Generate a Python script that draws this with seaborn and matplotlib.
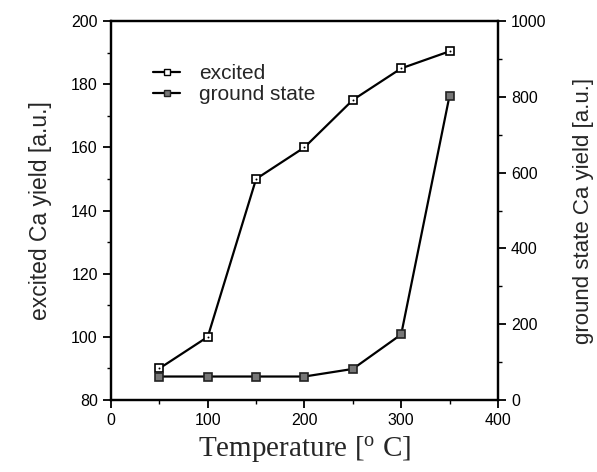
import matplotlib
matplotlib.use("Agg")
import matplotlib.pyplot as plt
import seaborn as sns
import pandas as pd
from matplotlib.lines import Line2D
from matplotlib.ticker import MultipleLocator

sns.set_theme(style="white")
plt.rcParams['font.family'] = ['Liberation Sans', 'DejaVu Sans']

temperature = [50, 100, 150, 200, 250, 300, 350]
excited = [90, 100, 150, 160, 175, 185, 190.4]
ground = [62, 62, 62, 62, 82, 173, 803]

df = pd.DataFrame({'T': temperature, 'excited': excited, 'ground': ground})

fig = plt.figure(figsize=(5.97, 4.72), dpi=100)
ax = fig.add_axes([0.186, 0.1525, 0.648, 0.803])
ax2 = ax.twinx()

sns.lineplot(data=df, x='T', y='excited', ax=ax, color='black', lw=1.6,
             marker='s', markersize=6, markerfacecolor='white',
             markeredgecolor='black', markeredgewidth=1.2)
sns.scatterplot(data=df, x='T', y='excited', ax=ax, color='black', s=2,
                linewidth=0, zorder=5)
sns.lineplot(data=df, x='T', y='ground', ax=ax2, color='black', lw=1.6,
             marker='s', markersize=6, markerfacecolor='#777777',
             markeredgecolor='#222222', markeredgewidth=1.2)

ax.set_xlim(0, 400)
ax.set_ylim(80, 200)
ax2.set_ylim(0, 1000)
ax.xaxis.set_major_locator(MultipleLocator(100))
ax.xaxis.set_minor_locator(MultipleLocator(50))
ax.yaxis.set_major_locator(MultipleLocator(20))
ax.yaxis.set_minor_locator(MultipleLocator(10))
ax2.yaxis.set_major_locator(MultipleLocator(200))
ax2.yaxis.set_minor_locator(MultipleLocator(100))

for a in (ax, ax2):
    for s in a.spines.values():
        s.set_color('black')
        s.set_linewidth(1.6)
    a.tick_params(which='major', direction='out', length=6, width=1.3,
                  colors='black', labelsize=11.5)
    a.tick_params(which='minor', direction='out', length=3, width=1.0,
                  colors='black')
ax.tick_params(axis='y', which='both', left=True, right=False)
ax.tick_params(axis='x', which='both', bottom=True)
ax2.tick_params(axis='y', which='both', right=True, left=False)

ax.set_xlabel('Temperature [$\\mathregular{^o}$ C]', fontsize=21,
              family=['Liberation Serif', 'DejaVu Serif'], labelpad=4)
ax.set_ylabel('excited Ca yield [a.u.]', fontsize=16.5, labelpad=14)
ax2.set_ylabel('ground state Ca yield [a.u.]', fontsize=16, labelpad=19)

handles = [
    Line2D([], [], color='black', lw=1.6, marker='s', markersize=5,
           markerfacecolor='white', markeredgecolor='black'),
    Line2D([], [], color='black', lw=1.6, marker='s', markersize=5,
           markerfacecolor='#777777', markeredgecolor='#222222'),
]
ax.legend(handles, ['excited', 'ground state'], loc='upper left',
          bbox_to_anchor=(0.06, 0.935), frameon=False, fontsize=15,
          handlelength=1.3, handletextpad=0.9, labelspacing=0.1)

fig.savefig('out.png', dpi=100)
